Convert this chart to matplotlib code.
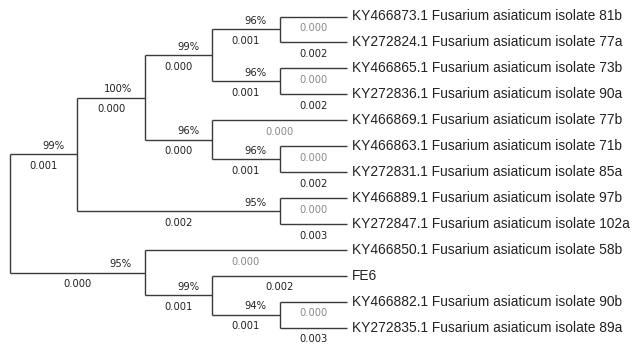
import matplotlib
matplotlib.use("Agg")
import matplotlib.pyplot as plt

# ── Data ─────────────────────────────────────────────────────────────────────
leaves = [
    "KY466873.1 Fusarium asiaticum isolate 81b",
    "KY272824.1 Fusarium asiaticum isolate 77a",
    "KY466865.1 Fusarium asiaticum isolate 73b",
    "KY272836.1 Fusarium asiaticum isolate 90a",
    "KY466869.1 Fusarium asiaticum isolate 77b",
    "KY466863.1 Fusarium asiaticum isolate 71b",
    "KY272831.1 Fusarium asiaticum isolate 85a",
    "KY466889.1 Fusarium asiaticum isolate 97b",
    "KY272847.1 Fusarium asiaticum isolate 102a",
    "KY466850.1 Fusarium asiaticum isolate 58b",
    "FE6",
    "KY466882.1 Fusarium asiaticum isolate 90b",
    "KY272835.1 Fusarium asiaticum isolate 89a",
]
leaf_lengths = ["0.000", "0.002", "0.000", "0.002", "0.000", "0.000", "0.002",
                "0.000", "0.003", "0.000", "0.002", "0.000", "0.003"]

# internal clades: name -> children (leaf index or clade name)
clade_children = {
    "A": [0, 1], "B": [2, 3], "C": ["A", "B"], "D": [5, 6], "E": [4, "D"],
    "F": ["C", "E"], "G": [7, 8], "H": ["F", "G"], "I": [11, 12],
    "J": [10, "I"], "K": [9, "J"], "root": ["H", "K"],
}
clade_support = {"A": "96%", "B": "96%", "C": "99%", "D": "96%", "E": "96%",
                 "F": "100%", "G": "95%", "H": "99%", "I": "94%", "J": "99%",
                 "K": "95%"}
clade_lengths = {"A": "0.001", "B": "0.001", "C": "0.000", "D": "0.001",
                 "E": "0.000", "F": "0.000", "G": "0.002", "H": "0.001",
                 "I": "0.001", "J": "0.001", "K": "0.000"}

# ── Layout (topology only, MEGA style) ───────────────────────────────────────
def height(n):
    if isinstance(n, int):
        return 0
    return 1 + max(height(c) for c in clade_children[n])

ROOT_H = height("root")

def xpos(n):
    return ROOT_H - height(n)

def ypos(n):
    if isinstance(n, int):
        return n
    ys = [ypos(c) for c in clade_children[n]]
    return (min(ys) + max(ys)) / 2

W, H = 637, 345
fig = plt.figure(figsize=(W / 100, H / 100), dpi=100)
ax = fig.add_axes([0, 0, 1, 1])
ax.axis("off")

STEP = 67.4     # px per level
X0 = 10         # px of root
Y0, DY = 16.5, 25.95
ax.set_xlim(-X0 / STEP, (W - X0) / STEP)
ax.set_ylim((H - Y0) / DY, -Y0 / DY)

LC = "#3a3a3a"
LW = 1.0
NUMFONT = dict(family="DejaVu Sans", fontsize=7.2)

def draw(n):
    x = xpos(n)
    y = ypos(n)
    kids = clade_children[n]
    ys = [ypos(c) for c in kids]
    ax.plot([x, x], [min(ys), max(ys)], color=LC, lw=LW, solid_capstyle="butt")
    for c in kids:
        cx = xpos(c)
        cy = ypos(c)
        ax.plot([x, cx], [cy, cy], color=LC, lw=LW, solid_capstyle="butt")
        if isinstance(c, int):
            lab = leaf_lengths[c]
            col = "#8a8a8a" if lab == "0.000" else "#222222"
            ax.text(cx + 0.07, cy, leaves[c], ha="left", va="center",
                    family="Liberation Sans", fontsize=9.9, color="#222222")
        else:
            lab = clade_lengths[c]
            col = "#222222"
            ax.annotate(clade_support[c], xy=(cx, cy), xytext=(-13, 8.5),
                        textcoords="offset pixels", ha="right", va="center",
                        color="#222222", **NUMFONT)
            draw(c)
        ax.annotate(lab, xy=((x + cx) / 2, cy), xytext=(0, -11.5),
                    textcoords="offset pixels", ha="center", va="center",
                    color=col, **NUMFONT)

draw("root")

fig.savefig("out.png", dpi=100, facecolor="white")
